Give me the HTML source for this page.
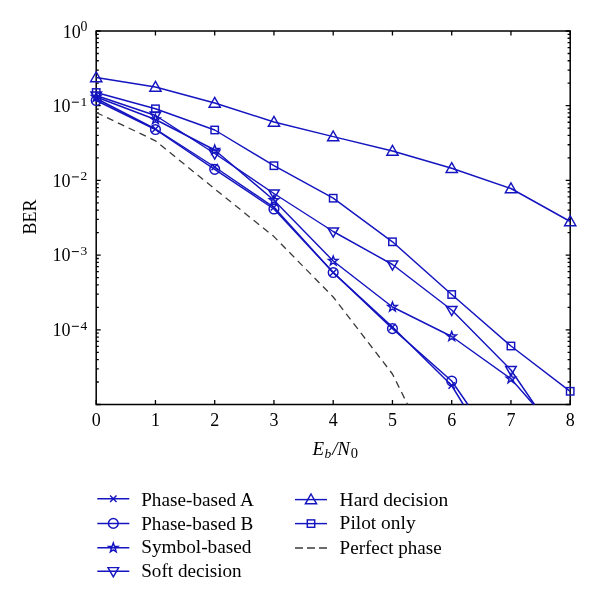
<!DOCTYPE html><html><head><meta charset="utf-8"><style>html,body{margin:0;padding:0;background:#fff;}svg{display:block;will-change:transform;} text{font-family:"Liberation Serif",serif;fill:#000;}</style></head><body>
<svg width="600" height="600" viewBox="0 0 600 600">
<rect x="0" y="0" width="600" height="600" fill="#fff"/>
<defs><clipPath id="pc"><rect x="96.20" y="31.00" width="474.00" height="373.50"/></clipPath></defs>
<rect x="96.20" y="31.00" width="474.00" height="373.50" fill="none" stroke="#000" stroke-width="1.5"/>
<path d="M96.20,404.50 v-4.5 M96.20,31.00 v4.5 M155.45,404.50 v-4.5 M155.45,31.00 v4.5 M214.70,404.50 v-4.5 M214.70,31.00 v4.5 M273.95,404.50 v-4.5 M273.95,31.00 v4.5 M333.20,404.50 v-4.5 M333.20,31.00 v4.5 M392.45,404.50 v-4.5 M392.45,31.00 v4.5 M451.70,404.50 v-4.5 M451.70,31.00 v4.5 M510.95,404.50 v-4.5 M510.95,31.00 v4.5 M570.20,404.50 v-4.5 M570.20,31.00 v4.5 M96.20,31.00 h4.5 M570.20,31.00 h-4.5 M96.20,105.70 h4.5 M570.20,105.70 h-4.5 M96.20,180.40 h4.5 M570.20,180.40 h-4.5 M96.20,255.10 h4.5 M570.20,255.10 h-4.5 M96.20,329.80 h4.5 M570.20,329.80 h-4.5 M96.20,404.50 h4.5 M570.20,404.50 h-4.5 M96.20,83.21 h2.6 M570.20,83.21 h-2.6 M96.20,70.06 h2.6 M570.20,70.06 h-2.6 M96.20,60.73 h2.6 M570.20,60.73 h-2.6 M96.20,53.49 h2.6 M570.20,53.49 h-2.6 M96.20,47.57 h2.6 M570.20,47.57 h-2.6 M96.20,42.57 h2.6 M570.20,42.57 h-2.6 M96.20,38.24 h2.6 M570.20,38.24 h-2.6 M96.20,34.42 h2.6 M570.20,34.42 h-2.6 M96.20,157.91 h2.6 M570.20,157.91 h-2.6 M96.20,144.76 h2.6 M570.20,144.76 h-2.6 M96.20,135.43 h2.6 M570.20,135.43 h-2.6 M96.20,128.19 h2.6 M570.20,128.19 h-2.6 M96.20,122.27 h2.6 M570.20,122.27 h-2.6 M96.20,117.27 h2.6 M570.20,117.27 h-2.6 M96.20,112.94 h2.6 M570.20,112.94 h-2.6 M96.20,109.12 h2.6 M570.20,109.12 h-2.6 M96.20,232.61 h2.6 M570.20,232.61 h-2.6 M96.20,219.46 h2.6 M570.20,219.46 h-2.6 M96.20,210.13 h2.6 M570.20,210.13 h-2.6 M96.20,202.89 h2.6 M570.20,202.89 h-2.6 M96.20,196.97 h2.6 M570.20,196.97 h-2.6 M96.20,191.97 h2.6 M570.20,191.97 h-2.6 M96.20,187.64 h2.6 M570.20,187.64 h-2.6 M96.20,183.82 h2.6 M570.20,183.82 h-2.6 M96.20,307.31 h2.6 M570.20,307.31 h-2.6 M96.20,294.16 h2.6 M570.20,294.16 h-2.6 M96.20,284.83 h2.6 M570.20,284.83 h-2.6 M96.20,277.59 h2.6 M570.20,277.59 h-2.6 M96.20,271.67 h2.6 M570.20,271.67 h-2.6 M96.20,266.67 h2.6 M570.20,266.67 h-2.6 M96.20,262.34 h2.6 M570.20,262.34 h-2.6 M96.20,258.52 h2.6 M570.20,258.52 h-2.6 M96.20,382.01 h2.6 M570.20,382.01 h-2.6 M96.20,368.86 h2.6 M570.20,368.86 h-2.6 M96.20,359.53 h2.6 M570.20,359.53 h-2.6 M96.20,352.29 h2.6 M570.20,352.29 h-2.6 M96.20,346.37 h2.6 M570.20,346.37 h-2.6 M96.20,341.37 h2.6 M570.20,341.37 h-2.6 M96.20,337.04 h2.6 M570.20,337.04 h-2.6 M96.20,333.22 h2.6 M570.20,333.22 h-2.6" stroke="#000" stroke-width="1.3" fill="none"/>
<g fill="none" stroke="#1414c0" stroke-width="1.45" stroke-linejoin="round" stroke-linecap="butt">
<polyline points="96.20,77.50 155.45,87.00 214.70,103.00 273.95,122.00 333.20,136.60 392.45,151.00 451.70,168.20 510.95,188.50 570.20,221.50" />
<polyline points="96.20,92.50 155.45,108.80 214.70,130.00 273.95,165.70 333.20,198.20 392.45,241.80 451.70,294.50 510.95,346.00 570.20,391.30" />
<polyline points="96.20,95.50 155.45,115.50 214.70,153.50 273.95,193.50 333.20,231.50 392.45,264.50 451.70,310.00 510.95,370.00 534.50,404.50" />
<polyline points="96.20,97.00 155.45,119.50 214.70,150.00 273.95,200.20 333.20,261.00 392.45,307.00 451.70,336.50 510.95,378.70 533.50,404.50" />
<polyline points="96.20,98.50 155.45,129.00 214.70,167.00 273.95,207.30 333.20,272.60 392.45,327.00 451.70,385.50 463.30,404.50" />
<polyline points="96.20,100.50 155.45,129.50 214.70,169.30 273.95,209.00 333.20,272.50 392.45,328.60 451.70,381.00 467.90,404.50" />
</g>
<polyline points="96.20,112.50 155.45,140.80 214.70,188.90 273.95,236.60 333.20,297.00 392.45,374.00 407.60,404.50" fill="none" stroke="#3a3a3a" stroke-width="1.3" stroke-dasharray="7 5" stroke-linejoin="round"/>
<g fill="none" stroke="#1414c0" stroke-width="1.45" stroke-linejoin="miter">
<path d="M96.20,71.90 L101.80,81.70 L90.60,81.70 Z"/>
<path d="M155.45,81.40 L161.05,91.20 L149.85,91.20 Z"/>
<path d="M214.70,97.40 L220.30,107.20 L209.10,107.20 Z"/>
<path d="M273.95,116.40 L279.55,126.20 L268.35,126.20 Z"/>
<path d="M333.20,131.00 L338.80,140.80 L327.60,140.80 Z"/>
<path d="M392.45,145.40 L398.05,155.20 L386.85,155.20 Z"/>
<path d="M451.70,162.60 L457.30,172.40 L446.10,172.40 Z"/>
<path d="M510.95,182.90 L516.55,192.70 L505.35,192.70 Z"/>
<path d="M570.20,215.90 L575.80,225.70 L564.60,225.70 Z"/>
<rect x="92.50" y="88.80" width="7.40" height="7.40"/>
<rect x="151.75" y="105.10" width="7.40" height="7.40"/>
<rect x="211.00" y="126.30" width="7.40" height="7.40"/>
<rect x="270.25" y="162.00" width="7.40" height="7.40"/>
<rect x="329.50" y="194.50" width="7.40" height="7.40"/>
<rect x="388.75" y="238.10" width="7.40" height="7.40"/>
<rect x="448.00" y="290.80" width="7.40" height="7.40"/>
<rect x="507.25" y="342.30" width="7.40" height="7.40"/>
<rect x="566.50" y="387.60" width="7.40" height="7.40"/>
<path d="M96.20,101.10 L101.50,91.90 L90.90,91.90 Z"/>
<path d="M155.45,121.10 L160.75,111.90 L150.15,111.90 Z"/>
<path d="M214.70,159.10 L220.00,149.90 L209.40,149.90 Z"/>
<path d="M273.95,199.10 L279.25,189.90 L268.65,189.90 Z"/>
<path d="M333.20,237.10 L338.50,227.90 L327.90,227.90 Z"/>
<path d="M392.45,270.10 L397.75,260.90 L387.15,260.90 Z"/>
<path d="M451.70,315.60 L457.00,306.40 L446.40,306.40 Z"/>
<path d="M510.95,375.60 L516.25,366.40 L505.65,366.40 Z"/>
<path d="M96.20,92.10 L97.38,95.37 L100.86,95.49 L98.11,97.62 L99.08,100.96 L96.20,99.01 L93.32,100.96 L94.29,97.62 L91.54,95.49 L95.02,95.37 Z"/>
<path d="M155.45,114.60 L156.63,117.87 L160.11,117.99 L157.36,120.12 L158.33,123.46 L155.45,121.51 L152.57,123.46 L153.54,120.12 L150.79,117.99 L154.27,117.87 Z"/>
<path d="M214.70,145.10 L215.88,148.37 L219.36,148.49 L216.61,150.62 L217.58,153.96 L214.70,152.01 L211.82,153.96 L212.79,150.62 L210.04,148.49 L213.52,148.37 Z"/>
<path d="M273.95,195.30 L275.13,198.57 L278.61,198.69 L275.86,200.82 L276.83,204.16 L273.95,202.21 L271.07,204.16 L272.04,200.82 L269.29,198.69 L272.77,198.57 Z"/>
<path d="M333.20,256.10 L334.38,259.37 L337.86,259.49 L335.11,261.62 L336.08,264.96 L333.20,263.01 L330.32,264.96 L331.29,261.62 L328.54,259.49 L332.02,259.37 Z"/>
<path d="M392.45,302.10 L393.63,305.37 L397.11,305.49 L394.36,307.62 L395.33,310.96 L392.45,309.01 L389.57,310.96 L390.54,307.62 L387.79,305.49 L391.27,305.37 Z"/>
<path d="M451.70,331.60 L452.88,334.87 L456.36,334.99 L453.61,337.12 L454.58,340.46 L451.70,338.51 L448.82,340.46 L449.79,337.12 L447.04,334.99 L450.52,334.87 Z"/>
<path d="M510.95,373.80 L512.13,377.07 L515.61,377.19 L512.86,379.32 L513.83,382.66 L510.95,380.71 L508.07,382.66 L509.04,379.32 L506.29,377.19 L509.77,377.07 Z"/>
<path d="M93.00,95.30 L99.40,101.70 M93.00,101.70 L99.40,95.30"/>
<path d="M152.25,125.80 L158.65,132.20 M152.25,132.20 L158.65,125.80"/>
<path d="M211.50,163.80 L217.90,170.20 M211.50,170.20 L217.90,163.80"/>
<path d="M270.75,204.10 L277.15,210.50 M270.75,210.50 L277.15,204.10"/>
<path d="M330.00,269.40 L336.40,275.80 M330.00,275.80 L336.40,269.40"/>
<path d="M389.25,323.80 L395.65,330.20 M389.25,330.20 L395.65,323.80"/>
<path d="M448.50,382.30 L454.90,388.70 M448.50,388.70 L454.90,382.30"/>
<circle cx="96.20" cy="100.50" r="4.85"/>
<circle cx="155.45" cy="129.50" r="4.85"/>
<circle cx="214.70" cy="169.30" r="4.85"/>
<circle cx="273.95" cy="209.00" r="4.85"/>
<circle cx="333.20" cy="272.50" r="4.85"/>
<circle cx="392.45" cy="328.60" r="4.85"/>
<circle cx="451.70" cy="381.00" r="4.85"/>
</g>
<text x="96.20" y="426.3" font-size="18" text-anchor="middle">0</text>
<text x="155.45" y="426.3" font-size="18" text-anchor="middle">1</text>
<text x="214.70" y="426.3" font-size="18" text-anchor="middle">2</text>
<text x="273.95" y="426.3" font-size="18" text-anchor="middle">3</text>
<text x="333.20" y="426.3" font-size="18" text-anchor="middle">4</text>
<text x="392.45" y="426.3" font-size="18" text-anchor="middle">5</text>
<text x="451.70" y="426.3" font-size="18" text-anchor="middle">6</text>
<text x="510.95" y="426.3" font-size="18" text-anchor="middle">7</text>
<text x="570.20" y="426.3" font-size="18" text-anchor="middle">8</text>
<text x="80.8" y="37.60" font-size="18" text-anchor="end">10</text>
<text x="80.6" y="30.80" font-size="13.8">0</text>
<text x="70.6" y="111.90" font-size="18" text-anchor="end">10</text>
<path d="M71.9,102.20 H78.9" stroke="#000" stroke-width="1.0"/>
<text x="80.4" y="105.70" font-size="13.5">1</text>
<text x="70.6" y="186.60" font-size="18" text-anchor="end">10</text>
<path d="M71.9,176.90 H78.9" stroke="#000" stroke-width="1.0"/>
<text x="80.4" y="180.40" font-size="13.5">2</text>
<text x="70.6" y="261.30" font-size="18" text-anchor="end">10</text>
<path d="M71.9,251.60 H78.9" stroke="#000" stroke-width="1.0"/>
<text x="80.4" y="255.10" font-size="13.5">3</text>
<text x="70.6" y="336.00" font-size="18" text-anchor="end">10</text>
<path d="M71.9,326.30 H78.9" stroke="#000" stroke-width="1.0"/>
<text x="80.4" y="329.80" font-size="13.5">4</text>
<text transform="translate(35.6,217) rotate(-90)" font-size="18" text-anchor="middle">BER</text>
<text x="335.2" y="455" font-size="19" text-anchor="middle" font-style="italic">E<tspan font-size="13.5" dy="3" dx="0.3">b</tspan><tspan dy="-3" dx="1.2">/</tspan><tspan dx="-0.3">N</tspan><tspan font-size="14.5" dy="3" dx="0.6" font-style="normal">0</tspan></text>
<path d="M97.30,498.80 H129.30" stroke="#1414c0" stroke-width="1.45"/><g fill="none" stroke="#1414c0" stroke-width="1.45"><path d="M110.10,495.60 L116.50,502.00 M110.10,502.00 L116.50,495.60"/></g><text x="141.20" y="505.80" font-size="18" textLength="112.60" lengthAdjust="spacingAndGlyphs">Phase-based A</text>
<path d="M97.30,523.40 H129.30" stroke="#1414c0" stroke-width="1.45"/><g fill="none" stroke="#1414c0" stroke-width="1.45"><circle cx="113.30" cy="523.40" r="4.85"/></g><text x="141.20" y="529.60" font-size="18" textLength="112.20" lengthAdjust="spacingAndGlyphs">Phase-based B</text>
<path d="M97.30,547.80 H129.30" stroke="#1414c0" stroke-width="1.45"/><g fill="none" stroke="#1414c0" stroke-width="1.45"><path d="M113.30,542.90 L114.48,546.17 L117.96,546.29 L115.21,548.42 L116.18,551.76 L113.30,549.81 L110.42,551.76 L111.39,548.42 L108.64,546.29 L112.12,546.17 Z"/></g><text x="141.20" y="553.20" font-size="18" textLength="110.30" lengthAdjust="spacingAndGlyphs">Symbol-based</text>
<path d="M97.30,571.20 H129.30" stroke="#1414c0" stroke-width="1.45"/><g fill="none" stroke="#1414c0" stroke-width="1.45"><path d="M113.30,576.80 L118.60,567.60 L108.00,567.60 Z"/></g><text x="141.20" y="577.30" font-size="18" textLength="100.50" lengthAdjust="spacingAndGlyphs">Soft decision</text>
<path d="M295.00,499.60 H327.00" stroke="#1414c0" stroke-width="1.45"/><g fill="none" stroke="#1414c0" stroke-width="1.45"><path d="M311.00,494.00 L316.60,503.80 L305.40,503.80 Z"/></g><text x="339.60" y="506.20" font-size="18" textLength="108.60" lengthAdjust="spacingAndGlyphs">Hard decision</text>
<path d="M295.00,523.60 H327.00" stroke="#1414c0" stroke-width="1.45"/><g fill="none" stroke="#1414c0" stroke-width="1.45"><rect x="307.30" y="519.90" width="7.40" height="7.40"/></g><text x="339.60" y="529.30" font-size="18" textLength="76.00" lengthAdjust="spacingAndGlyphs">Pilot only</text>
<path d="M295.00,548.00 H327.00" stroke="#3a3a3a" stroke-width="1.3" stroke-dasharray="8 4"/><text x="339.60" y="553.50" font-size="18" textLength="102.00" lengthAdjust="spacingAndGlyphs">Perfect phase</text>
</svg></body></html>
